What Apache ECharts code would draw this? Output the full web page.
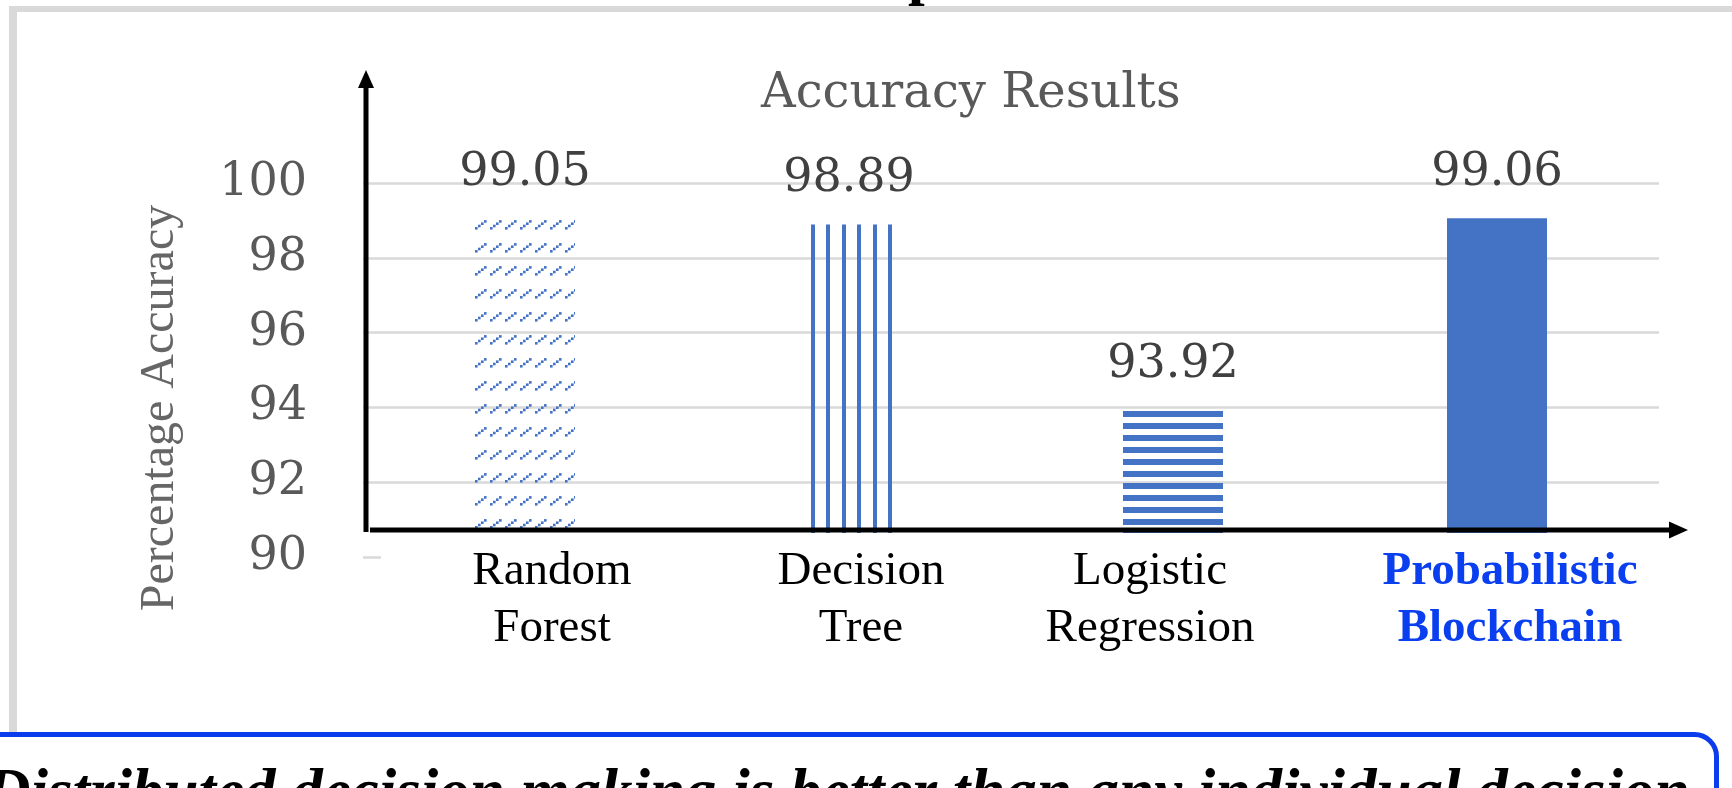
<!DOCTYPE html>
<html>
<head>
<meta charset="utf-8">
<title>Accuracy Results</title>
<script src="https://cdn.jsdelivr.net/npm/echarts@6/dist/echarts.min.js"></script>
<style>
  html, body { margin: 0; padding: 0; background: #fff; }
  #main { width: 1732px; height: 788px; }
</style>
</head>
<body>
<div id="main"></div>
<script>
// data
const categories = ['Random Forest', 'Decision Tree', 'Logistic Regression', 'Probabilistic Blockchain'];
const accuracy = [99.05, 98.89, 93.92, 99.06];
const yTicks = [90, 92, 94, 96, 98, 100];

const BLUE = '#4472c4';
const GRAY_TEXT = '#595959';

// small canvas tiles used as bar fill patterns
function makeTile(w, h, draw) {
  const c = document.createElement('canvas');
  c.width = w;
  c.height = h;
  const ctx = c.getContext('2d');
  ctx.fillStyle = BLUE;
  draw(ctx);
  return { image: c, repeat: 'repeat' };
}

// dotted diagonal strokes (Random Forest)
const diagFill = makeTile(15, 23, function (ctx) {
  [-15, 0].forEach(function (dx) {
    for (let k = 0; k < 4; k++) {
      ctx.fillRect(10 + dx + k * 3, 20 - k * 2.3, 2.6, 2.6);
    }
  });
});
// vertical lines (Decision Tree)
const vertFill = makeTile(31, 8, function (ctx) {
  ctx.fillRect(5, 0, 4, 8);
  ctx.fillRect(20, 0, 4, 8);
});
// horizontal stripes (Logistic Regression)
const horzFill = makeTile(8, 12, function (ctx) {
  ctx.fillRect(0, 3, 8, 6);
});
const fills = [diagFill, vertFill, horzFill, BLUE];

// label styles per category (last one is highlighted)
const labelShift = [27, 12, -23, 13];
const rich = {};
labelShift.forEach(function (s, i) {
  const last = i === categories.length - 1;
  rich['c' + i] = {
    fontFamily: 'Liberation Serif',
    fontSize: 47,
    lineHeight: 57,
    color: last ? '#0a3fef' : '#000',
    fontWeight: last ? 'bold' : 'normal',
    padding: s > 0 ? [0, 0, 0, 2 * s] : [0, -2 * s, 0, 0]
  };
});

let myChart = echarts.init(document.getElementById('main'));

let option = {
  animation: false,
  backgroundColor: '#fff',
  title: {
    text: 'Accuracy Results',
    left: 761,
    top: 71,
    padding: 0,
    textStyle: { fontFamily: 'DejaVu Serif', fontSize: 48, fontWeight: 'normal', color: GRAY_TEXT }
  },
  grid: { left: 363, right: 73, top: 183, bottom: 231, outerBoundsMode: 'none' },
  xAxis: {
    type: 'category',
    data: categories,
    z: 10,
    axisLine: { show: false },
    axisTick: { show: false },
    axisLabel: {
      interval: 0,
      margin: -14,
      formatter: function (value, idx) {
        return value.split(' ').map(function (w) { return '{c' + idx + '|' + w + '}'; }).join('\n');
      },
      rich: rich
    }
  },
  yAxis: {
    type: 'value',
    min: yTicks[0],
    max: yTicks[yTicks.length - 1],
    interval: yTicks[1] - yTicks[0],
    name: 'Percentage Accuracy',
    nameLocation: 'middle',
    nameRotate: 90,
    nameGap: 179,
    nameTextStyle: { fontFamily: 'Liberation Serif', fontSize: 48, color: '#666', padding: [0, 76, 0, 0] },
    axisLine: { show: false },
    axisTick: { show: false },
    axisLabel: { margin: 56, fontFamily: 'DejaVu Serif', fontSize: 46, color: GRAY_TEXT },
    splitLine: { lineStyle: { color: '#d9d9d9', width: 2.5 } }
  },
  series: [
    {
      type: 'bar',
      barWidth: 100,
      data: accuracy.map(function (v, i) { return { value: v, itemStyle: { color: fills[i] } }; }),
      label: {
        show: true,
        position: 'top',
        distance: 22,
        color: '#404040',
        fontFamily: 'DejaVu Serif',
        fontSize: 46
      }
    }
  ],
  // slide decoration: frame, cover under the drawn axes, arrows and caption box
  graphic: {
    elements: [
      { type: 'rect', shape: { x: 9, y: 6, width: 1723, height: 6 }, style: { fill: '#d9d9d9' }, z: 1 },
      { type: 'rect', shape: { x: 9, y: 6, width: 8, height: 727 }, style: { fill: '#d9d9d9' }, z: 1 },
      {
        type: 'text', x: 908, y: -23, z: 6,
        style: { text: 'p', font: 'bold 60px "Liberation Serif"', fill: '#000',
          textVerticalAlign: 'middle', verticalAlign: 'middle' }
      },
      { type: 'rect', shape: { x: 381, y: 533, width: 1351, height: 200 }, style: { fill: '#fff' }, z: 5 },
      { type: 'line', shape: { x1: 366, y1: 532, x2: 366, y2: 84 }, style: { stroke: '#000', lineWidth: 5 }, z: 6 },
      { type: 'polygon', shape: { points: [[358, 88], [366, 70], [374, 88]] }, style: { fill: '#000' }, z: 6 },
      { type: 'line', shape: { x1: 370, y1: 530, x2: 1672, y2: 530 }, style: { stroke: '#000', lineWidth: 5 }, z: 6 },
      { type: 'polygon', shape: { points: [[1669, 521.5], [1688, 530], [1669, 538.5]] }, style: { fill: '#000' }, z: 6 },
      {
        type: 'rect', z: 7,
        shape: { x: -30, y: 734.5, width: 1746.5, height: 120, r: 22 },
        style: { fill: '#fff', stroke: '#0b3ded', lineWidth: 5 }
      },
      {
        type: 'text', x: -15, y: 796, z: 8,
        style: {
          text: 'Distributed decision making is better than any individual decision',
          font: 'italic bold 63px "Liberation Serif"', fill: '#000',
          textVerticalAlign: 'middle', verticalAlign: 'middle'
        }
      }
    ]
  }
};

option && myChart.setOption(option);
</script>
</body>
</html>
